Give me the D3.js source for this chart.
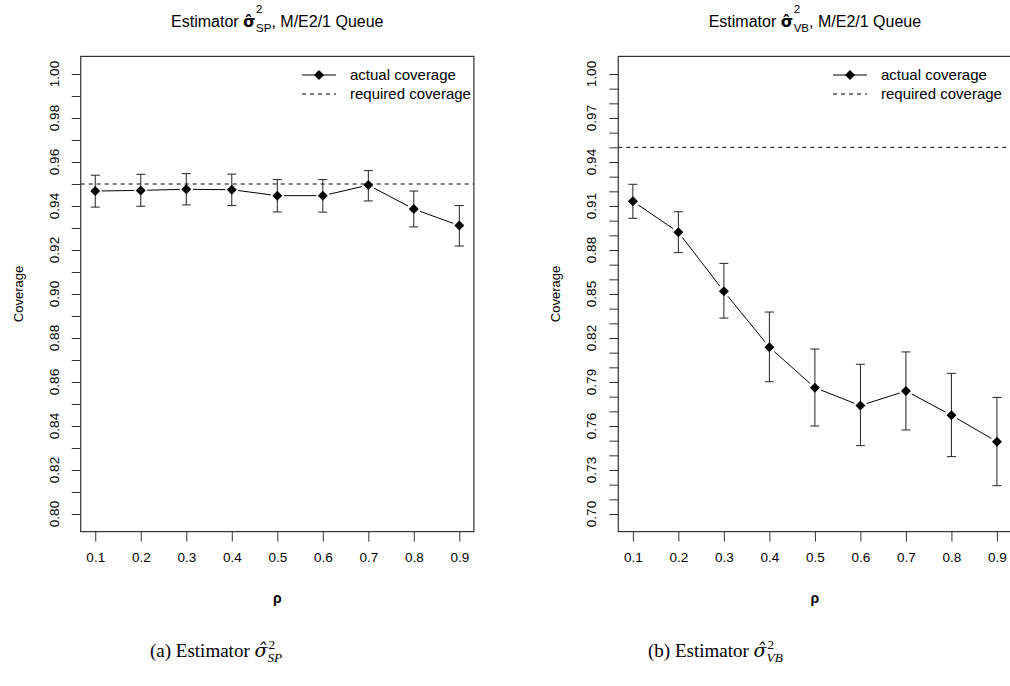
<!DOCTYPE html>
<html>
<head>
<meta charset="utf-8">
<script src="https://cdn.jsdelivr.net/npm/d3@7"></script>
<style>
  html, body { margin: 0; padding: 0; background: #fff; }
  svg { display: block; }
  text { font-family: "Liberation Sans", Arial, Helvetica, sans-serif; fill: #000; white-space: pre; }
  .cap { font-family: "Liberation Serif", "Times New Roman", serif; }
</style>
</head>
<body>
<svg id="chart" width="1010" height="686"></svg>
<script>
// Traffic intensity values on the x axis
const rho = [0.1, 0.2, 0.3, 0.4, 0.5, 0.6, 0.7, 0.8, 0.9];
const rhoLabels = ["0.1", "0.2", "0.3", "0.4", "0.5", "0.6", "0.7", "0.8", "0.9"];

// Nominal coverage of the confidence intervals
const requiredCoverage = 0.95;

// Estimator SP: observed coverage with interval ends
const spCoverage = [0.9468, 0.9471, 0.9476, 0.9474, 0.9447, 0.9447, 0.9495, 0.9386, 0.9311];
const spLower    = [0.9395, 0.9399, 0.9405, 0.9402, 0.9373, 0.9372, 0.9423, 0.9305, 0.9218];
const spUpper    = [0.9540, 0.9544, 0.9547, 0.9545, 0.9520, 0.9520, 0.9561, 0.9468, 0.9402];

// Estimator VB: observed coverage with interval ends
const vbCoverage = [0.9132, 0.8921, 0.8518, 0.8137, 0.7861, 0.7739, 0.7839, 0.7673, 0.7493];
const vbLower    = [0.9016, 0.8782, 0.8336, 0.7902, 0.7600, 0.7466, 0.7573, 0.7391, 0.7193];
const vbUpper    = [0.9248, 0.9061, 0.8709, 0.8377, 0.8125, 0.8021, 0.8105, 0.7959, 0.7795];

// Y-axis tick values and which of them carry a label
const spTicks  = d3.range(80, 101).map(v => v / 100);
const spLabels = ["0.80", "0.82", "0.84", "0.86", "0.88", "0.90", "0.92", "0.94", "0.96", "0.98", "1.00"];
const vbTicks  = d3.range(70, 101).map(v => v / 100);
const vbLabels = ["0.70", "0.73", "0.76", "0.79", "0.82", "0.85", "0.88", "0.91", "0.94", "0.97", "1.00"];

const legendLabels = ["actual coverage", "required coverage"];

const svg = d3.select("#chart");
svg.append("rect").attr("width", 1010).attr("height", 686).attr("fill", "#fff");

const plotTop = 56.4, plotBottom = 531.6;

// width of a string at a given size and family
function textWidth(str, size, family) {
  const t = svg.append("text").style("font-size", size + "px").style("font-family", family).text(str);
  const w = t.node().getComputedTextLength();
  t.remove();
  return w;
}

// One text element: prefix, hatted sigma, stacked superscript 2 and subscript, suffix
function mathText(x, y, o) {
  const s = o.size, ss = s * o.scriptScale;
  const t = svg.append("text").attr("x", x).attr("y", y)
    .attr("text-anchor", o.anchor).attr("class", o.cls || null)
    .style("font-size", s + "px");
  t.append("tspan").text(o.prefix);
  t.append("tspan")
    .style("font-family", o.sigmaFamily)
    .style("font-weight", o.bold ? "bold" : "normal")
    .style("font-style", o.italic ? "italic" : "normal")
    .text("σ\u0302");
  const w2 = textWidth("2", ss, o.scriptFamily);
  t.append("tspan").attr("dx", o.scriptGap).attr("dy", -s * o.supRaise)
    .style("font-size", ss + "px").text("2");
  t.append("tspan").attr("dx", -w2 + (o.subShift || 0)).attr("dy", s * (o.supRaise + o.subDrop))
    .style("font-size", ss + "px")
    .style("font-style", o.italic ? "italic" : "normal")
    .text(o.sub);
  if (o.suffix) {
    t.append("tspan").attr("dy", -s * o.subDrop).text(o.suffix);
  }
  return t;
}

function panel(cfg) {
  const g = svg.append("g");
  const x = d3.scaleLinear().domain([0.068, 0.932]).range([cfg.left, cfg.right]);
  const y = d3.scaleLinear().domain(cfg.yDomain).range([plotBottom, plotTop]);

  // reference line for the nominal level
  g.append("line")
    .attr("x1", cfg.left).attr("x2", cfg.right)
    .attr("y1", y(requiredCoverage)).attr("y2", y(requiredCoverage))
    .attr("stroke", "#000").attr("stroke-width", 1).attr("stroke-dasharray", "4,4");

  // error bars
  const cap = 4.5;
  const bars = g.append("g").attr("stroke", "#222").attr("stroke-width", 1).attr("fill", "none");
  rho.forEach((r, i) => {
    const px = x(r);
    const yl = y(cfg.lower[i]), yu = y(cfg.upper[i]);
    bars.append("line").attr("x1", px).attr("x2", px).attr("y1", yl).attr("y2", yu);
    bars.append("line").attr("x1", px - cap).attr("x2", px + cap).attr("y1", yu).attr("y2", yu);
    bars.append("line").attr("x1", px - cap).attr("x2", px + cap).attr("y1", yl).attr("y2", yl);
  });

  // connecting segments, stopping short of each marker
  const gap = 6.5;
  const segs = g.append("g").attr("stroke", "#000").attr("stroke-width", 1);
  for (let i = 0; i < rho.length - 1; i++) {
    const x0 = x(rho[i]), y0 = y(cfg.values[i]);
    const x1 = x(rho[i + 1]), y1 = y(cfg.values[i + 1]);
    const len = Math.hypot(x1 - x0, y1 - y0);
    const ux = (x1 - x0) / len, uy = (y1 - y0) / len;
    segs.append("line")
      .attr("x1", x0 + ux * gap).attr("y1", y0 + uy * gap)
      .attr("x2", x1 - ux * gap).attr("y2", y1 - uy * gap);
  }

  // filled diamonds
  const diamond = "M0,-5L5,0L0,5L-5,0Z";
  g.append("g").selectAll("path").data(cfg.values).join("path")
    .attr("d", diamond)
    .attr("transform", (d, i) => `translate(${x(rho[i])},${y(d)})`)
    .attr("fill", "#000");

  // plot frame
  g.append("rect")
    .attr("x", cfg.left).attr("y", plotTop)
    .attr("width", cfg.right - cfg.left).attr("height", plotBottom - plotTop)
    .attr("fill", "none").attr("stroke", "#333").attr("stroke-width", 1.2);

  // x axis
  const xa = g.append("g").attr("transform", `translate(0,${plotBottom})`)
    .call(d3.axisBottom(x).tickValues(rho).tickSize(10).tickPadding(11)
      .tickFormat((d, i) => rhoLabels[i]));
  xa.select(".domain").remove();
  xa.selectAll("line").attr("stroke", "#333");
  xa.selectAll("text").style("font-size", "13.5px").style("font-family", "Liberation Sans, Arial, sans-serif");

  // y axis ticks
  const ya = g.append("g").attr("transform", `translate(${cfg.left},0)`)
    .call(d3.axisLeft(y).tickValues(cfg.ticks).tickSize(9).tickFormat(""));
  ya.select(".domain").remove();
  ya.selectAll("line").attr("stroke", "#333");

  // rotated y tick labels
  g.append("g").selectAll("text").data(cfg.labels).join("text")
    .attr("transform", d => `translate(${cfg.left - 22},${y(+d)}) rotate(-90)`)
    .attr("text-anchor", "middle")
    .style("font-size", "13.5px")
    .text(d => d);

  // axis titles
  g.append("text")
    .attr("transform", `translate(${cfg.left - 58},${(plotTop + plotBottom) / 2}) rotate(-90)`)
    .attr("text-anchor", "middle").style("font-size", "13px").text("Coverage");
  g.append("text")
    .attr("x", (cfg.left + cfg.right) / 2).attr("y", 603)
    .attr("text-anchor", "middle").style("font-size", "14px").style("font-weight", "bold").text("ρ");

  // legend
  const lx = cfg.legendX;
  const leg = g.append("g");
  leg.append("line").attr("x1", lx - 48).attr("x2", lx - 14).attr("y1", 75).attr("y2", 75)
    .attr("stroke", "#000").attr("stroke-width", 1);
  leg.append("path").attr("d", diamond).attr("transform", `translate(${lx - 31},75)`).attr("fill", "#000");
  leg.append("line").attr("x1", lx - 48).attr("x2", lx - 14).attr("y1", 94).attr("y2", 94)
    .attr("stroke", "#000").attr("stroke-width", 1).attr("stroke-dasharray", "4,4");
  leg.selectAll("text").data(legendLabels).join("text")
    .attr("x", lx).attr("y", (d, i) => 75 + i * 19).attr("dy", "0.35em")
    .style("font-size", "15px").text(d => d);

  // panel title
  mathText((cfg.left + cfg.right) / 2, 27, {
    size: 16, anchor: "middle", prefix: "Estimator ", suffix: ", M/E2/1 Queue",
    sub: cfg.sub, bold: true, sigmaFamily: "DejaVu Sans", scriptFamily: "Liberation Sans",
    scriptScale: 0.72, supRaise: 0.85, subDrop: 0.3, scriptGap: 0.5
  });
}

panel({
  left: 80.7, right: 473.9, yDomain: [0.792, 1.008], legendX: 350,
  values: spCoverage, lower: spLower, upper: spUpper,
  ticks: spTicks, labels: spLabels, sub: "SP"
});
panel({
  left: 618.3, right: 1011.5, yDomain: [0.688, 1.012], legendX: 881,
  values: vbCoverage, lower: vbLower, upper: vbUpper,
  ticks: vbTicks, labels: vbLabels, sub: "VB"
});

// figure captions
[["(a) Estimator ", "SP", 150], ["(b) Estimator ", "VB", 648]].forEach(([pre, sub, x0]) => {
  mathText(x0, 657, {
    size: 19, anchor: "start", cls: "cap", prefix: pre, sub: sub, italic: true,
    sigmaFamily: "DejaVu Serif", scriptFamily: "Liberation Serif",
    scriptScale: 0.7, supRaise: 0.42, subDrop: 0.27, scriptGap: 1, subShift: -1
  });
});
</script>
</body>
</html>
